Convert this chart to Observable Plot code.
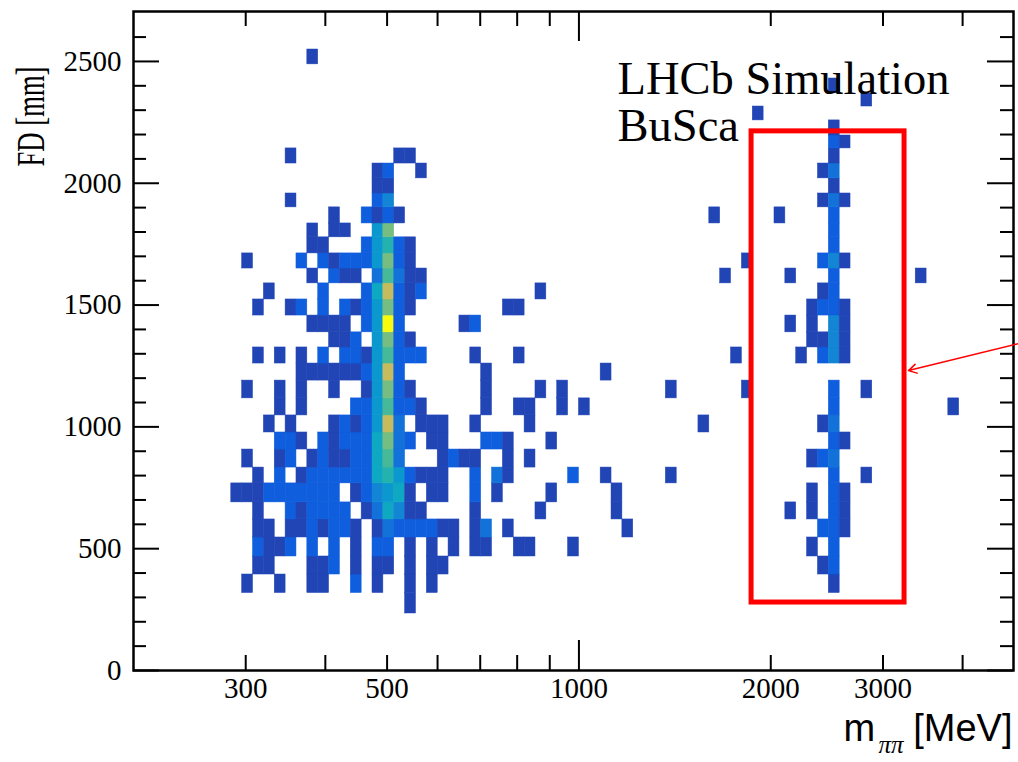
<!DOCTYPE html>
<html><head><meta charset="utf-8">
<script src="https://cdn.jsdelivr.net/npm/d3@7"></script>
<script src="https://cdn.jsdelivr.net/npm/@observablehq/plot@0.6"></script>
<style>
html,body{margin:0;padding:0;background:#fff;}
#chart{width:1018px;height:762px;overflow:hidden;}
</style></head><body><div id="chart"></div>
<script>
// ---- binning of the 2D histogram ----
const massEdgeLo = 200, massEdgeHi = 5000, massBinCount = 82, massBinsShown = 81; // log-spaced mass bins (MeV)
// FD bin edges (mm), bottom to top
const fdBinEdges = [234, 318, 394, 468, 546, 620, 690, 768, 833, 907, 977, 1047, 1117, 1190, 1260, 1326, 1388,
  1457, 1523, 1589, 1650, 1712, 1778, 1835, 1901, 1958, 2020, 2081, 2143, 2196, 2258, 2315, 2369, 2430, 2488, 2549];
const fdShownMax = 2705;

// ---- cell contents: index = FD bin (0 = lowest); entries "massBin:count" ----
const cellRows = [
  "25:1",
  "10:1 13:1 16:1 17:1 20:2 22:1 25:1 27:1 64:1",
  "11:1 12:1 16:1 17:1 18:2 20:1 22:1 23:1 25:1 27:1 28:1 63:1 64:2",
  "11:2 12:1 13:1 14:2 16:2 18:2 20:1 22:2 23:2 25:1 27:1 29:1 31:1 32:1 35:1 36:1 40:1 62:1 64:2",
  "11:1 12:1 14:1 15:1 16:2 17:1 18:2 19:2 20:1 22:1 23:3 24:2 25:2 26:2 27:2 28:1 29:1 31:1 32:3 34:1 45:1 63:2 64:2 65:1",
  "11:1 14:2 15:1 16:2 17:2 18:2 19:2 21:1 22:3 23:6 24:4 25:1 26:1 31:1 37:1 44:1 60:1 62:1 64:2 65:1",
  "9:1 10:1 11:1 12:2 13:2 14:2 15:2 16:2 17:2 18:2 20:1 21:2 22:4 23:5 24:6 25:1 27:1 28:1 31:2 33:1 38:1 44:1 62:1 64:2 65:1",
  "11:1 13:2 15:1 16:2 17:2 18:2 19:2 20:2 21:2 22:6 23:7 24:5 25:2 26:1 27:1 28:1 31:2 33:3 34:1 40:2 43:1 49:1 64:2 67:1",
  "10:1 13:1 14:2 16:1 17:2 18:1 19:1 20:2 21:2 22:6 23:8 24:3 28:1 29:2 30:1 31:1 34:1 36:1 62:1 63:2 64:3",
  "13:2 14:2 15:1 17:2 18:1 19:2 20:2 21:2 22:6 23:9 24:3 25:2 27:1 28:1 32:2 33:2 34:1 38:1 64:2 65:1",
  "12:1 14:1 18:1 19:2 20:1 21:2 22:5 23:11 24:3 26:1 27:1 28:1 31:1 36:1 52:1 63:1 64:3",
  "13:1 15:1 20:2 21:2 22:5 23:8 24:2 25:2 26:1 32:1 35:1 36:1 39:1 41:1 64:2 75:1",
  "10:1 13:1 15:1 18:1 21:1 22:5 23:9 24:2 25:1 32:1 37:1 39:1 49:1 56:1 64:2 67:1",
  "15:1 16:1 17:1 18:1 19:1 20:1 21:2 22:5 23:11 24:2 32:1 43:1",
  "11:1 13:1 15:1 17:2 19:2 20:2 21:1 22:5 23:8 24:2 25:2 26:2 31:1 35:1 55:1 61:1 63:2 64:4 65:1",
  "18:1 19:1 20:2 22:5 23:9 24:2 25:1 62:1 63:1 64:4 65:1",
  "16:1 17:1 18:1 19:1 21:2 22:5 23:15 24:2 30:1 31:2 60:1 62:1 64:4 65:1",
  "11:1 14:1 15:2 17:2 19:2 20:1 21:2 22:5 23:9 24:2 25:1 34:1 35:1 62:1 63:2 64:2 65:1",
  "12:1 17:2 21:2 22:6 23:11 24:2 25:1 26:2 37:1 63:1 64:2",
  "16:1 18:2 19:1 20:1 22:3 23:8 24:3 25:1 26:1 54:1 60:1 64:2 72:1",
  "10:1 15:2 17:2 18:1 19:2 20:2 21:2 22:5 23:9 24:2 25:1 56:1 63:2 64:4 65:1",
  "16:1 17:1 21:2 22:5 23:7 24:2 25:1 64:2",
  "16:1 18:1 19:1 22:5 23:9 64:2",
  "18:1 21:2 22:1 23:2 24:1 53:1 59:1 64:2",
  "14:1 22:2 23:4 63:1 64:3 65:1",
  "22:1 23:1 64:1",
  "22:1 23:2 26:1 63:1 64:3",
  "14:1 24:1 25:1 64:1",
  "64:2 65:1",
  "64:1",
  "57:1",
  "67:1",
  "64:1",
  "",
  "16:1"
];

// ---- axes ----
const massLabelTicks = [300, 500, 1000, 2000, 3000];
const massMinorTicks = [300, 400, 500, 600, 700, 800, 900, 2000, 3000, 4000];
const massMajorTicks = [1000];
const fdLabelTicks = [0, 500, 1000, 1500, 2000, 2500];
const fdMinorTicks = [100, 200, 300, 400, 600, 700, 800, 900, 1100, 1200, 1300, 1400, 1600, 1700, 1800, 1900, 2100, 2200, 2300, 2400, 2600];

// ---- palette (ROOT kBird) ----
const birdPalette = ["#352a87", "#0f5cdd", "#1481d6", "#06a4ca", "#2eb7a4", "#87bf77", "#d1bb59", "#fec832", "#f9fb0e"];
const countMax = 15;

// ---- annotations ----
const boxRegion = [{m1: 1866, m2: 3243, fd1: 279, fd2: 2213}];
const arrowSpec = [{m1: 4896, fd1: 1342, m2: 3290, fd2: 1231}];

// ---- build cells ----
const logLo = Math.log10(massEdgeLo);
const dLog = (Math.log10(massEdgeHi) - logLo) / massBinCount;
const massEdge = k => Math.pow(10, logLo + k * dLog);
const cells = cellRows.flatMap((s, r) => s.trim() === "" ? [] : s.trim().split(/\s+/).map(p => {
  const [k, c] = p.split(":").map(Number);
  return {m1: massEdge(k), m2: massEdge(k + 1), fd1: fdBinEdges[r], fd2: fdBinEdges[r + 1], count: c};
}));

const W = 1018, H = 762, mL = 133, mR = 5, mT = 11, mB = 92;
const plotW = W - mL - mR, plotH = H - mT - mB;
const serif = "Liberation Serif, Times New Roman, serif";
const sans = "Liberation Sans, Arial, sans-serif";
const cScale = d3.piecewise(d3.interpolateRgb, birdPalette);

const chart = Plot.plot({
  width: W, height: H,
  marginLeft: mL, marginRight: mR, marginTop: mT, marginBottom: mB,
  x: {type: "log", domain: [massEdgeLo, massEdge(massBinsShown)], axis: null},
  y: {domain: [0, fdShownMax], axis: null},
  color: {type: "linear", domain: [0, countMax], interpolate: cScale},
  style: {background: "white", overflow: "visible"},
  marks: [
    Plot.rect(cells, {x1: "m1", x2: "m2", y1: "fd1", y2: "fd2", fill: "count", stroke: "count", strokeWidth: 0.5}),
    // ticks: bottom & top
    Plot.ruleX(massMinorTicks, {x: d => d, insetTop: plotH - 15, stroke: "black", strokeWidth: 2}),
    Plot.ruleX(massMajorTicks, {x: d => d, insetTop: plotH - 30, stroke: "black", strokeWidth: 2}),
    Plot.ruleX(massMinorTicks, {x: d => d, insetBottom: plotH - 15, stroke: "black", strokeWidth: 2}),
    Plot.ruleX(massMajorTicks, {x: d => d, insetBottom: plotH - 30, stroke: "black", strokeWidth: 2}),
    // ticks: left & right
    Plot.ruleY(fdMinorTicks, {y: d => d, insetRight: plotW - 13, stroke: "black", strokeWidth: 2}),
    Plot.ruleY(fdLabelTicks, {y: d => d, insetRight: plotW - 26, stroke: "black", strokeWidth: 2}),
    Plot.ruleY(fdMinorTicks, {y: d => d, insetLeft: plotW - 13, stroke: "black", strokeWidth: 2}),
    Plot.ruleY(fdLabelTicks, {y: d => d, insetLeft: plotW - 26, stroke: "black", strokeWidth: 2}),
    Plot.frame({stroke: "black", strokeWidth: 2.5}),
    // tick labels
    Plot.text(massLabelTicks, {x: d => d, frameAnchor: "bottom", dy: 27, text: d => String(d), fontSize: 29, fontFamily: serif, fill: "black"}),
    Plot.text(fdLabelTicks, {y: d => d, frameAnchor: "left", dx: -12, textAnchor: "end", text: d => String(d), fontSize: 29, fontFamily: serif, fill: "black"}),
    // axis titles
    Plot.text(["FD [mm]"], {frameAnchor: "top-left", dx: -119, dy: 55, rotate: -90, textAnchor: "end", fontSize: 41, fontFamily: serif, fill: "black", className: "fd-title"}),
    Plot.text(["m"], {frameAnchor: "bottom-right", dx: -170, dy: 70, textAnchor: "start", fontSize: 38, fontFamily: sans, fill: "black"}),
    Plot.text(["\u03c0\u03c0"], {frameAnchor: "bottom-right", dx: -135, dy: 82, textAnchor: "start", fontSize: 25, fontFamily: serif, fontStyle: "italic", fill: "black"}),
    Plot.text(["[MeV]"], {frameAnchor: "bottom-right", dx: -1, dy: 70, textAnchor: "end", fontSize: 38, fontFamily: sans, fill: "black"}),
    // LHCb label
    Plot.text(["LHCb Simulation"], {frameAnchor: "top-left", dx: 484, dy: 49, textAnchor: "start", fontSize: 46.5, fontFamily: serif, fill: "black"}),
    Plot.text(["BuSca"], {frameAnchor: "top-left", dx: 484, dy: 96, textAnchor: "start", fontSize: 46.5, fontFamily: serif, fill: "black"}),
    // annotation box and arrow
    Plot.rect(boxRegion, {x1: "m1", x2: "m2", y1: "fd1", y2: "fd2", fill: "none", stroke: "#ff0000", strokeWidth: 5}),
    Plot.arrow(arrowSpec, {x1: "m1", y1: "fd1", x2: "m2", y2: "fd2", stroke: "#ff0000", strokeWidth: 1.5, headLength: 9})
  ]
});
document.getElementById("chart").appendChild(chart);
d3.select(chart).selectAll(".fd-title text").attr("textLength", 100).attr("lengthAdjust", "spacingAndGlyphs");
</script></body></html>
